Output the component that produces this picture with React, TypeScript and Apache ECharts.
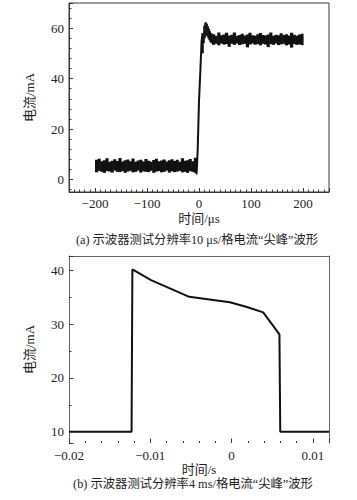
import React, { useEffect, useRef } from 'react';
import * as echarts from 'echarts';

const FONT = '"Liberation Serif", "Times New Roman", "Noto Sans CJK SC", serif';

// ---------- Chart (a): 10 μs/div ----------
// low-level noise band (segment edges, lower / upper envelope per segment)
const lowEdges = [-200, -195, -190, -185, -180, -175, -170, -165, -160, -155, -150, -145, -140, -135, -130, -125, -120, -115, -110, -105, -100, -95, -90, -85, -80, -75, -70, -65, -60, -55, -50, -45, -40, -35, -30, -25, -20, -15, -10, -5];
const lowLower = [2.8, 3.4, 3.0, 2.6, 3.3, 3.1, 2.7, 3.5, 3.0, 2.9, 3.3, 2.6, 3.1, 3.4, 2.8, 3.0, 3.5, 2.7, 3.2, 3.0, 2.9, 3.4, 2.6, 3.1, 3.3, 2.8, 3.0, 3.5, 2.7, 3.2, 2.9, 3.1, 3.4, 2.8, 3.0, 2.6, 3.3, 3.0, 2.6];
const lowUpper = [7.8, 8.2, 7.2, 7.6, 8.4, 7.0, 7.4, 8.0, 7.3, 8.5, 7.1, 7.6, 7.9, 7.2, 8.3, 7.0, 7.5, 7.8, 7.1, 8.1, 7.4, 7.0, 7.7, 8.2, 7.2, 7.5, 7.9, 7.1, 7.6, 8.0, 7.3, 7.8, 7.0, 8.4, 7.4, 7.6, 8.1, 7.2, 8.6];

// overshoot ("spike") band
const peakEdges = [5, 8, 10, 12, 14, 16, 18, 20, 22, 25];
const peakLower = [50, 54, 56, 57, 56.8, 56, 55.2, 54.5, 54];
const peakUpper = [58, 61, 62.2, 62.4, 61.8, 60.8, 59.8, 58.8, 58];

// high-level noise band
const highEdges = [25, 30, 35, 40, 45, 50, 55, 60, 65, 70, 75, 80, 85, 90, 95, 100, 105, 110, 115, 120, 125, 130, 135, 140, 145, 150, 155, 160, 165, 170, 175, 180, 185, 190, 195, 200];
const highLower = [53.4, 53.8, 53.2, 53.9, 53.5, 53.7, 52.6, 53.8, 53.4, 53.9, 53.3, 53.6, 53.8, 52.4, 53.5, 53.9, 53.4, 53.7, 53.2, 53.8, 53.5, 52.5, 53.7, 53.4, 53.9, 53.3, 53.6, 53.8, 53.2, 53.5, 52.3, 53.7, 53.4, 53.6, 53.3];
const highUpper = [57.6, 57.0, 58.3, 57.2, 57.5, 58.2, 57.1, 57.4, 58.3, 57.0, 57.3, 57.8, 57.1, 57.5, 58.2, 57.2, 57.0, 57.6, 58.1, 57.3, 57.1, 57.5, 58.3, 57.0, 57.4, 57.2, 58.0, 57.3, 57.6, 57.1, 58.2, 57.4, 57.0, 57.5, 57.8];

// rising edge
const riseT = [-4.8, -3.8, -2.5, 0, 3, 5, 7];
const riseI = [2.0, 5.5, 12, 31, 45, 55, 58];

// ---------- Chart (b): 4 ms/div ----------
const waveT = [-0.02, -0.0123, -0.0122, -0.0099, -0.0052, -0.0002, 0.0019, 0.0039, 0.0059, 0.006, 0.012];
const waveI = [10, 10, 40.2, 38.2, 35.1, 34.1, 33.2, 32.2, 28.1, 10, 10];

function bandData(edges: number[], lower: number[], upper: number[]) {
  const out: number[][] = [];
  for (let i = 0; i < lower.length; i++) out.push([edges[i], edges[i + 1], lower[i], upper[i]]);
  return out;
}

const AXIS_COLOR = '#3a3a3a';
const TEXT_COLOR = '#1e1e1e';

function bandRender(params: any, api: any) {
  const x0 = api.value(0), x1 = api.value(1), lo = api.value(2), hi = api.value(3);
  const p0 = api.coord([x0, hi]);
  const p1 = api.coord([x1, lo]);
  return {
    type: 'rect',
    shape: { x: p0[0], y: p0[1], width: p1[0] - p0[0] + 0.6, height: p1[1] - p0[1] },
    style: { fill: '#111' },
  };
}

const minus = (s: string) => s.replace('-', '\u2212');

export default function App() {
  const ref = useRef<HTMLDivElement>(null);
  useEffect(() => {
    if (!ref.current) return;
    const chart = echarts.init(ref.current, null, { renderer: 'svg' });
    const labelStyle = { fontFamily: FONT, fontSize: 13, color: TEXT_COLOR };
    const nameStyle = { fontFamily: FONT, fontSize: 13, color: TEXT_COLOR, lineHeight: 13 };
    chart.setOption({
      animation: false,
      backgroundColor: '#fff',
      grid: [
        { left: 69, top: 3, right: 28, bottom: 308, show: true, borderColor: AXIS_COLOR, borderWidth: 1, containLabel: false },
        { left: 69, top: 256, right: 28, bottom: 57, show: false, containLabel: false },
      ],
      xAxis: [
        {
          gridIndex: 0, type: 'value', min: -250, max: 250, splitNumber: 5,
          axisLine: { show: true, onZero: false, lineStyle: { color: AXIS_COLOR, width: 1 } },
          axisTick: { show: true, inside: true, length: 4, lineStyle: { color: AXIS_COLOR } },
          minorTick: { show: true, splitNumber: 10, length: 2.5, lineStyle: { color: AXIS_COLOR } },
          splitLine: { show: false },
          axisLabel: { ...labelStyle, margin: 5, formatter: (v: number) => (Math.abs(v) <= 200 && v % 100 === 0 ? minus(String(v)) : '') },
          name: '时间/μs', nameLocation: 'middle', nameGap: 20, nameTextStyle: nameStyle,
        },
        {
          gridIndex: 1, type: 'value', min: -0.02, max: 0.012, interval: 0.01,
          axisLine: { show: false, onZero: false },
          axisTick: { show: true, inside: true, length: 4.5, lineStyle: { color: AXIS_COLOR } },
          minorTick: { show: true, splitNumber: 5, length: 2, lineStyle: { color: AXIS_COLOR } },
          splitLine: { show: false },
          axisLabel: {
            ...labelStyle, margin: 6,
            formatter: (v: number) => {
              const k = v * 100;
              return Math.abs(k - Math.round(k)) < 1e-6 ? minus(String(Math.round(k) / 100)) : '';
            },
          },
          name: '时间/s', nameLocation: 'middle', nameGap: 18, nameTextStyle: nameStyle,
        },
        {
          gridIndex: 1, type: 'value', position: 'top', min: -0.02, max: 0.012,
          axisLine: { show: true, onZero: false, lineStyle: { color: '#666', width: 1 } },
          axisTick: { show: false }, axisLabel: { show: false }, splitLine: { show: false },
        },
      ],
      yAxis: [
        {
          gridIndex: 0, type: 'value', min: -5, max: 70, splitNumber: 4,
          axisLine: { show: true, onZero: false, lineStyle: { color: AXIS_COLOR, width: 1 } },
          axisTick: { show: true, inside: true, length: 4, lineStyle: { color: AXIS_COLOR } },
          minorTick: { show: true, splitNumber: 5, length: 2.5, lineStyle: { color: AXIS_COLOR } },
          splitLine: { show: false },
          axisLabel: { ...labelStyle, margin: 5, formatter: (v: number) => (v >= 0 && v <= 60 && v % 20 === 0 ? String(v) : '') },
          name: '电流/mA', nameLocation: 'middle', nameGap: 33, nameRotate: 90, nameTextStyle: nameStyle,
        },
        {
          gridIndex: 1, type: 'value', min: 7.9, max: 42.7, splitNumber: 3,
          axisLine: { show: true, onZero: false, lineStyle: { color: '#666', width: 1 } },
          axisTick: { show: true, inside: true, length: 4.5, lineStyle: { color: AXIS_COLOR } },
          minorTick: { show: true, splitNumber: 2, length: 2.5, lineStyle: { color: AXIS_COLOR } },
          splitLine: { show: false },
          axisLabel: { ...labelStyle, margin: 5, formatter: (v: number) => (Math.abs(v % 10) < 1e-9 ? String(v) : '') },
          name: '电流/mA', nameLocation: 'middle', nameGap: 33, nameRotate: 90, nameTextStyle: nameStyle,
        },
        {
          gridIndex: 1, type: 'value', position: 'right', min: 7.9, max: 42.7,
          axisLine: { show: true, onZero: false, lineStyle: { color: '#666', width: 1 } },
          axisTick: { show: false }, axisLabel: { show: false }, splitLine: { show: false },
        },
      ],
      series: [
        {
          type: 'custom', xAxisIndex: 0, yAxisIndex: 0, renderItem: bandRender,
          encode: { x: [0, 1], y: [2, 3] }, data: bandData(lowEdges, lowLower, lowUpper), silent: true,
        },
        {
          type: 'custom', xAxisIndex: 0, yAxisIndex: 0, renderItem: bandRender,
          encode: { x: [0, 1], y: [2, 3] }, data: bandData(peakEdges, peakLower, peakUpper), silent: true,
        },
        {
          type: 'custom', xAxisIndex: 0, yAxisIndex: 0, renderItem: bandRender,
          encode: { x: [0, 1], y: [2, 3] }, data: bandData(highEdges, highLower, highUpper), silent: true,
        },
        {
          type: 'line', xAxisIndex: 0, yAxisIndex: 0, symbol: 'none', smooth: false,
          lineStyle: { color: '#111', width: 2 },
          data: riseT.map((t, i) => [t, riseI[i]]),
        },
        {
          type: 'line', xAxisIndex: 1, yAxisIndex: 1, symbol: 'none', smooth: false,
          lineStyle: { color: '#111', width: 2 },
          data: waveT.map((t, i) => [t, waveI[i]]),
        },
      ],
      graphic: [
        {
          type: 'text', x: 197, y: 233,
          style: { text: '(a) 示波器测试分辨率10 μs/格电流“尖峰”波形', fontFamily: FONT, fontSize: 12.3, lineHeight: 13, fill: TEXT_COLOR, align: 'center' },
        },
        {
          type: 'text', x: 193, y: 477,
          style: { text: '(b) 示波器测试分辨率4 ms/格电流“尖峰”波形', fontFamily: FONT, fontSize: 12.3, lineHeight: 13, fill: TEXT_COLOR, align: 'center' },
        },
      ],
    });
    return () => chart.dispose();
  }, []);
  return <div ref={ref} style={{ position: 'absolute', left: 0, top: 0, width: 357, height: 500, background: '#fff' }} />;
}
